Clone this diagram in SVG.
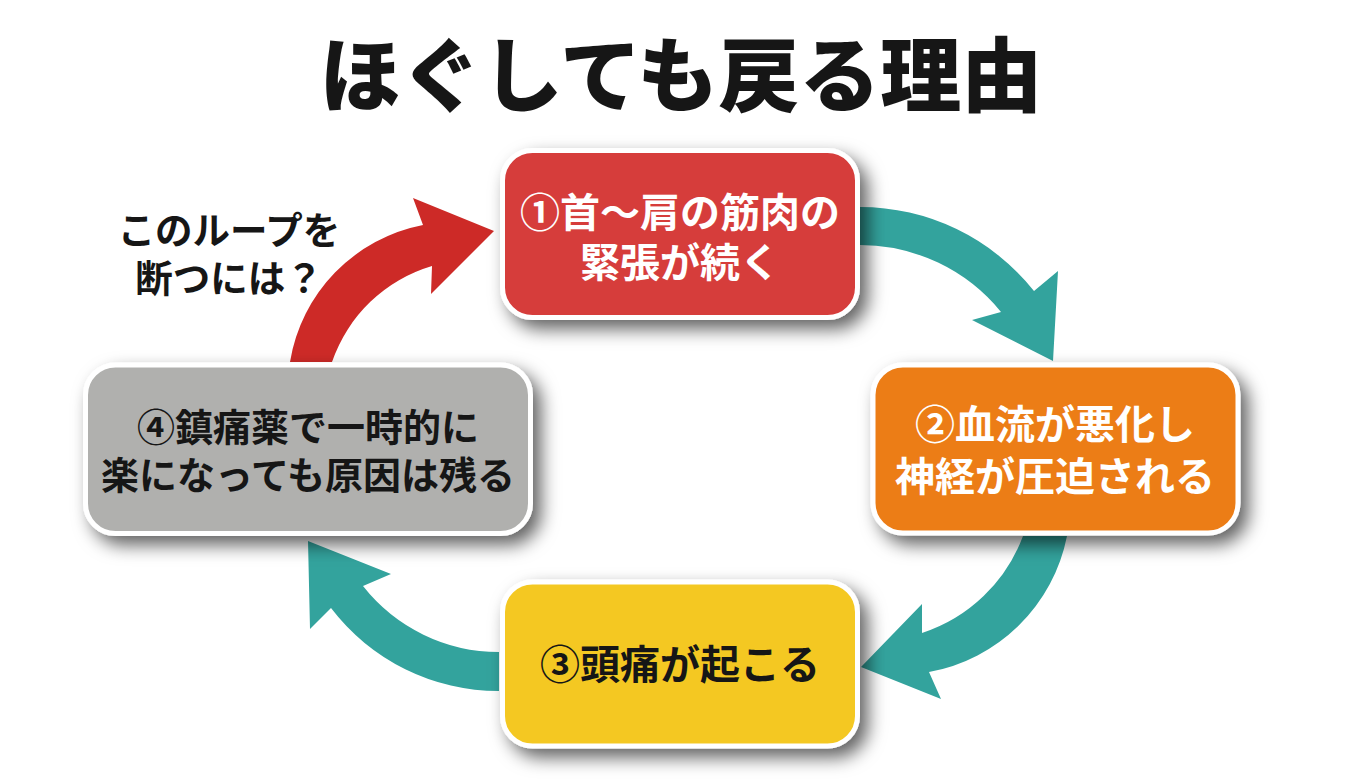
<svg xmlns="http://www.w3.org/2000/svg" width="1360" height="784" viewBox="0 0 1360 784">
<style>
text{font-family:"Liberation Sans","Noto Sans CJK JP","Noto Sans CJK SC",sans-serif;font-weight:700;text-anchor:middle}
.t{font-size:40px}
.g{font-size:38px}
.w{fill:#fff}
.k{fill:#161616}
.box{stroke:#fff;stroke-width:5;filter:url(#s)}
.teal{fill:#33a39d}
.red{fill:#cd2a27}
</style>
<defs>
<filter id="s" x="-15%" y="-20%" width="130%" height="145%"><feDropShadow dx="8" dy="9" stdDeviation="9" flood-color="#000" flood-opacity=".62"/></filter>
</defs>
<rect width="1360" height="784" fill="#fff"/>
<text x="681" y="105" font-size="81" fill="#161616" style="font-weight:900">ほぐしても戻る理由</text>
<g id="connectors">
<path class="teal" d="M860 207A222 222 0 0 1 1034 291L1058 271L1053 361L972 320L1001 312A182 182 0 0 0 860 245Z"/>
<path class="teal" d="M1023 536A161 161 0 0 1 922 633V604L861 667L941 699L929 672A172 172 0 0 0 1067 536Z"/>
<path class="teal" d="M499 652A173 173 0 0 1 363 586L391 574L308 541L310 629L331 608A211 211 0 0 0 499 691Z"/>
<path class="red" d="M290 362A167 167 0 0 1 423 225L413 198L494 231L431 294L432 266A151 151 0 0 0 332 362Z"/>
</g>
<g id="node1"><rect class="box" x="502.5" y="150.5" width="355" height="167" rx="30" fill="#d63c3b"/><text class="t w"><tspan x="680" y="227">①首～肩の筋肉の</tspan><tspan x="680" y="277">緊張が続く</tspan></text></g>
<g id="node2"><rect class="box" x="873" y="365" width="365" height="168" rx="30" fill="#ec7d16"/><text class="t w"><tspan x="1055" y="439">②血流が悪化し</tspan><tspan x="1055" y="491">神経が圧迫される</tspan></text></g>
<g id="node3"><rect class="box" x="502.5" y="582" width="355" height="164" rx="30" fill="#f4c822"/><text class="t k" x="680" y="679">③頭痛が起こる</text></g>
<g id="node4"><rect class="box" x="85.5" y="365" width="445" height="168.500" rx="30" fill="#b0b0ae"/><text class="g k"><tspan x="308" y="441">④鎮痛薬で一時的に</tspan><tspan x="308" y="489">楽になっても原因は残る</tspan></text></g>
<g id="note"><text class="k" font-size="37.500"><tspan x="229" y="244">このループを</tspan><tspan x="229" y="292">断つには？</tspan></text></g>
</svg>
